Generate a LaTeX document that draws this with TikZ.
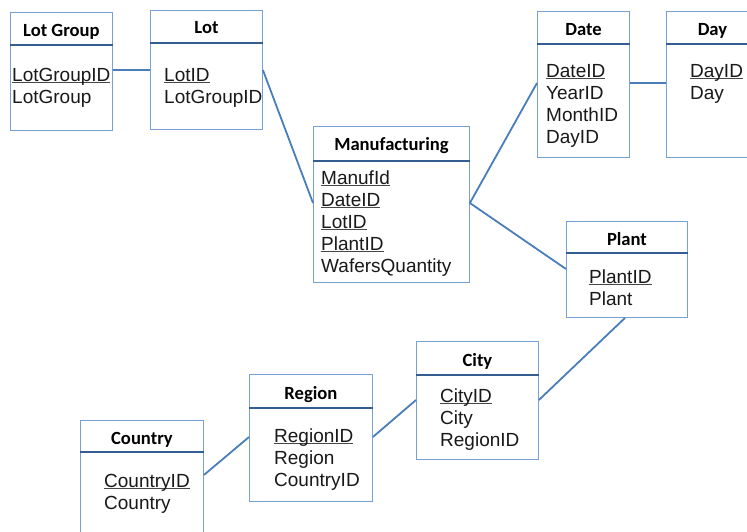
\documentclass[tikz,border=0pt]{standalone}
\usepackage{fontspec}
\setmainfont{Liberation Sans}
\newfontfamily\hdrfont{Carlito}
\usetikzlibrary{calc}
\definecolor{boxblue}{RGB}{120,160,214}
\definecolor{hdrblue}{RGB}{52,93,145}
\definecolor{linkblue}{RGB}{74,126,187}
\definecolor{ulgray}{RGB}{70,70,70}
\newcommand\keyul[1]{\setbox0\hbox{#1}\rlap{\color{ulgray}\rule[-2.3pt]{\wd0}{0.9pt}}\box0}
\tikzset{
  entity/.style={draw=boxblue, line width=0.9pt, fill=white, inner sep=0pt, anchor=north west},
  hdrline/.style={draw=hdrblue, line width=2pt},
  title/.style={font=\hdrfont\bfseries\fontsize{18.6}{20}\selectfont, inner sep=0pt, anchor=base},
  field/.style={font=\fontsize{19}{22}\selectfont, inner sep=0pt, anchor=base west, text=black!90},
  link/.style={draw=linkblue, line width=1.8pt},
}
\begin{document}
\begin{tikzpicture}[x=1pt,y=-1pt]
\useasboundingbox (0,0) rectangle (747,531);
\clip (0,0) rectangle (747,531);
\fill[white] (0,0) rectangle (747,531);

% ---------- boxes ----------
\node[entity, minimum width=102pt, minimum height=118pt] (lotgroup) at (10,12) {};
\node[entity, minimum width=112pt, minimum height=119pt] (lot) at (150,10) {};
\node[entity, minimum width=156pt, minimum height=156pt] (manuf) at (313,126) {};
\node[entity, minimum width=92pt, minimum height=146pt] (date) at (537,11) {};
\node[entity, minimum width=92pt, minimum height=146pt] (day) at (666,11) {};
\node[entity, minimum width=121pt, minimum height=96pt] (plant) at (566,221) {};
\node[entity, minimum width=122pt, minimum height=118pt] (city) at (416,341) {};
\node[entity, minimum width=123pt, minimum height=127pt] (region) at (249,374) {};
\node[entity, minimum width=123pt, minimum height=130pt] (country) at (80,420) {};

% ---------- header lines ----------
\draw[hdrline] ($(lotgroup.north west)+(0,33)$) -- ($(lotgroup.north east)+(0,33)$);
\draw[hdrline] ($(lot.north west)+(0,33)$) -- ($(lot.north east)+(0,33)$);
\draw[hdrline] ($(manuf.north west)+(0,35)$) -- ($(manuf.north east)+(0,35)$);
\draw[hdrline] ($(date.north west)+(0,33)$) -- ($(date.north east)+(0,33)$);
\draw[hdrline] ($(day.north west)+(0,33)$) -- ($(day.north east)+(0,33)$);
\draw[hdrline] ($(plant.north west)+(0,32)$) -- ($(plant.north east)+(0,32)$);
\draw[hdrline] ($(city.north west)+(0,34)$) -- ($(city.north east)+(0,34)$);
\draw[hdrline] ($(region.north west)+(0,34)$) -- ($(region.north east)+(0,34)$);
\draw[hdrline] ($(country.north west)+(0,32)$) -- ($(country.north east)+(0,32)$);

% ---------- titles ----------
\node[title] (tlotgroup) at ($(lotgroup.north)+(0,24)$) {Lot Group};
\node[title] (tlot) at ($(lot.north)+(0,23)$) {Lot};
\node[title] (tmanuf) at ($(manuf.north)+(0,24)$) {Manufacturing};
\node[title] (tdate) at ($(date.north)+(0,24)$) {Date};
\node[title] (tday) at ($(day.north)+(0,24)$) {Day};
\node[title] (tplant) at ($(plant.north)+(0,24)$) {Plant};
\node[title] (tcity) at ($(city.north)+(0,25)$) {City};
\node[title] (tregion) at ($(region.north)+(0,25)$) {Region};
\node[title] (tcountry) at ($(country.north)+(0,24)$) {Country};

% ---------- fields ----------
\node[field] (lg1) at (12,81) {\keyul{LotGroupID}};
\node[field] (lg2) at (12,103) {LotGroup};

\node[field] (lt1) at (164,81) {\keyul{LotID}};
\node[field] (lt2) at (164,103) {LotGroupID};

\node[field] (mf1) at (321,184) {\keyul{ManufId}};
\node[field] (mf2) at (321,206) {\keyul{DateID}};
\node[field] (mf3) at (321,228) {\keyul{LotID}};
\node[field] (mf4) at (321,250) {\keyul{PlantID}};
\node[field] (mf5) at (321,272) {WafersQuantity};

\node[field] (dt1) at (546,77) {\keyul{DateID}};
\node[field] (dt2) at (546,99) {YearID};
\node[field] (dt3) at (546,121) {MonthID};
\node[field] (dt4) at (546,143) {DayID};

\node[field] (dy1) at (690,77) {\keyul{DayID}};
\node[field] (dy2) at (690,99) {Day};

\node[field] (pl1) at (589,283) {\keyul{PlantID}};
\node[field] (pl2) at (589,305) {Plant};

\node[field] (ct1) at (440,402) {\keyul{CityID}};
\node[field] (ct2) at (440,424) {City};
\node[field] (ct3) at (440,446) {RegionID};

\node[field] (rg1) at (274,442) {\keyul{RegionID}};
\node[field] (rg2) at (274,464) {Region};
\node[field] (rg3) at (274,486) {CountryID};

\node[field] (co1) at (104,487) {\keyul{CountryID}};
\node[field] (co2) at (104,509) {Country};

% ---------- connectors ----------
\draw[link] ($(lotgroup.north east)+(0,58)$) -- ($(lot.north west)+(0,60)$);
\draw[link] ($(lot.north east)+(0,60)$) -- ($(manuf.north west)+(0,77)$);
\draw[link] ($(manuf.north east)+(0,77)$) -- ($(date.north west)+(0,72)$);
\draw[link] ($(manuf.north east)+(0,77)$) -- ($(plant.north west)+(0,48)$);
\draw[link] ($(date.north east)+(0,72)$) -- ($(day.north west)+(0,72)$);
\draw[link] ($(plant.south west)+(59,0)$) -- ($(city.north east)+(0,59)$);
\draw[link] ($(city.north west)+(0,59)$) -- ($(region.north east)+(0,63)$);
\draw[link] ($(region.north west)+(0,63)$) -- ($(country.north east)+(0,55)$);
\end{tikzpicture}
\end{document}
